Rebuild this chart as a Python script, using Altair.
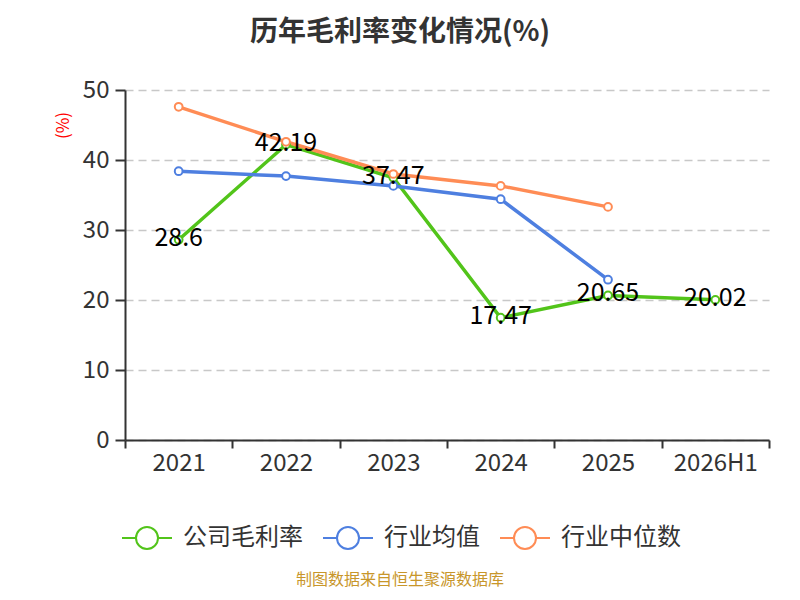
import altair as alt
import pandas as pd

years = ["2021", "2022", "2023", "2024", "2025", "2026H1"]
company = [28.6, 42.19, 37.47, 17.47, 20.65, 20.02]
ind_mean = [38.4, 37.7, 36.3, 34.4, 22.9, None]
ind_median = [47.6, 42.6, 38.0, 36.3, 33.3, None]
series_names = ["公司毛利率", "行业均值", "行业中位数"]
colors = ["#52c41a", "#4e7fe0", "#ff8c55"]
source_text = ["制图数据来自恒生聚源数据库"]

rows = []
for k, (name, vals) in enumerate(zip(series_names, [company, ind_mean, ind_median])):
    for y, v in zip(years, vals):
        if v is not None:
            rows.append({"year": y, "series": name, "value": v, "k": k})
df = pd.DataFrame(rows)
df_company = df[df["series"] == series_names[0]]
df_src = pd.DataFrame({"t": source_text})

FONT = "Noto Sans CJK SC"

x_enc = alt.X(
    "year:N",
    sort=years,
    scale=alt.Scale(type="band", paddingInner=0, paddingOuter=0),
    axis=alt.Axis(
        title=None, labelAngle=0, tickBand="extent", labelFontSize=24,
        labelColor="#333333", labelFont=FONT, domainColor="#333333",
        domainWidth=2, tickColor="#333333", tickWidth=2, tickSize=8,
        labelPadding=3, grid=False,
    ),
)
y_enc = alt.Y(
    "value:Q",
    scale=alt.Scale(domain=[0, 50], nice=False),
    axis=alt.Axis(
        title="(%)", titleColor="red", titleFontSize=17, titleFontWeight="normal",
        titleFont=FONT, titleAngle=270, titleX=-62, titleY=35,
        titleAlign="center", titleBaseline="middle",
        values=[0, 10, 20, 30, 40, 50], labelFontSize=24, labelColor="#333333",
        labelFont=FONT, domainColor="#333333", domainWidth=2,
        tickColor="#333333", tickWidth=2, tickSize=10, labelPadding=6,
        grid=True, gridColor="#c8c8c8", gridDash=[8, 5], gridWidth=1.5,
    ),
)
stroke_enc = alt.Stroke(
    "series:N",
    scale=alt.Scale(domain=series_names, range=colors),
    legend=alt.Legend(
        title=None, orient="none", legendX=-4, legendY=422, direction="horizontal",
        symbolType="M-1,0L-0.44,0M0.44,0L1,0M-0.44,0A0.44,0.44,0,1,0,0.44,0A0.44,0.44,0,1,0,-0.44,0",
        symbolSize=2500, symbolStrokeWidth=2, symbolFillColor="white",
        labelFontSize=24, labelColor="#333333", labelFont=FONT,
        labelOffset=10, columnPadding=16,
    ),
)

lines = alt.Chart(df).mark_line(strokeWidth=3.5).encode(
    x=x_enc, y=y_enc, stroke=stroke_enc, order=alt.Order("k:Q")
)
points = alt.Chart(df).mark_point(
    filled=True, fill="white", size=60, strokeWidth=2, opacity=1
).encode(x=x_enc, y=y_enc, stroke=stroke_enc)
labels = alt.Chart(df_company).mark_text(
    fontSize=25, font=FONT, color="#000000", dy=-2
).encode(x=alt.X("year:N", sort=years), y="value:Q", text=alt.Text("value:Q"))
src = alt.Chart(df_src).mark_text(
    fontSize=16, font=FONT, color="#c8962a"
).encode(x=alt.value(275), y=alt.value(490), text="t:N")

chart = alt.layer(lines, points, labels, src).properties(
    width=644, height=350,
    autosize=alt.AutoSizeParams(type="none"),
    padding={"left": 117, "top": 82, "right": 15, "bottom": 152},
    title=alt.TitleParams(
        "历年毛利率变化情况(%)", fontSize=28, font=FONT, fontWeight="bold",
        color="#333333", anchor="middle", frame="group", dx=-47, offset=31,
    ),
).configure_view(stroke=None)

chart.save("out.html", embed_options={"renderer": "svg", "actions": False})
